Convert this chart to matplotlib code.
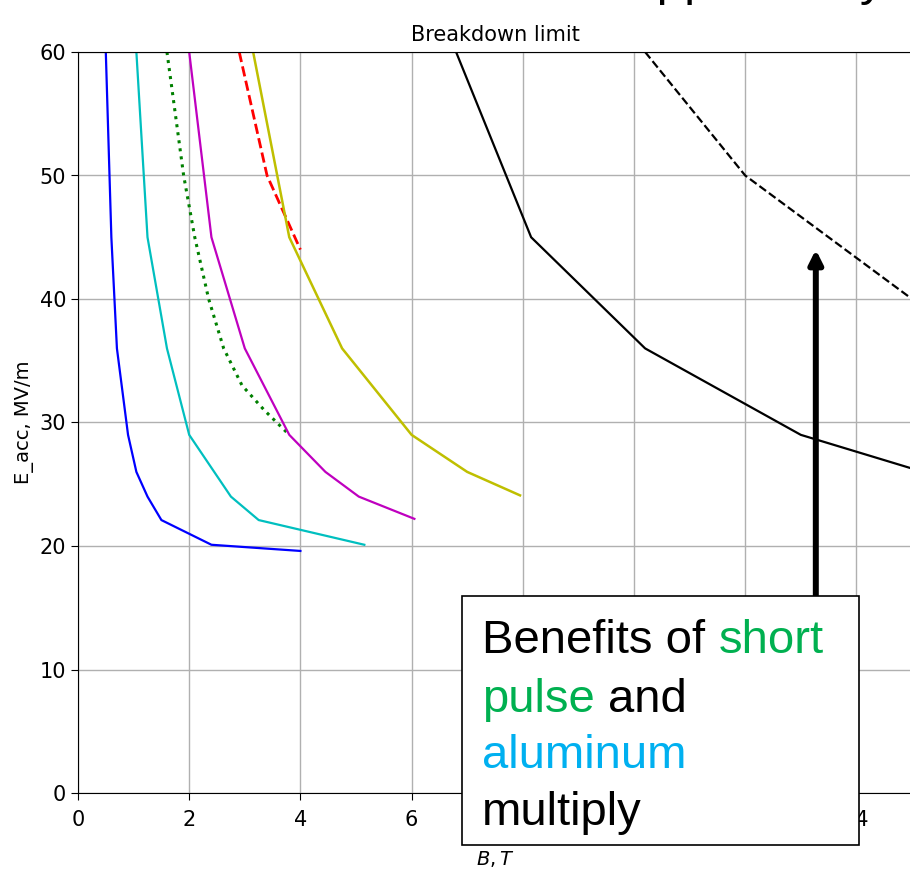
import matplotlib
matplotlib.use("Agg")
import matplotlib.pyplot as plt
from matplotlib.patches import Rectangle

W, H, DPI = 910, 871, 100

# curves (B in T, E_acc in MV/m)
b_blue = [0.5, 0.6, 0.7, 0.9, 1.05, 1.25, 1.5, 2.4, 4.0]
e_blue = [60, 45, 36, 29, 26, 24, 22.1, 20.1, 19.6]
b_cyan = [1.05, 1.25, 1.6, 2.0, 2.45, 2.75, 3.25, 5.15]
e_cyan = [60, 45, 36, 29, 26, 24, 22.1, 20.1]
b_green = [1.6, 1.75, 1.9, 2.1, 2.35, 2.62, 2.95, 3.35, 3.8]
e_green = [60, 55, 50, 45, 40, 36, 33, 31, 29]
b_mag = [2.0, 2.4, 3.0, 3.8, 4.45, 5.05, 6.05]
e_mag = [60, 45, 36, 29, 26, 24, 22.2]
b_red = [2.9, 3.15, 3.4, 4.0]
e_red = [60, 55, 50, 44]
b_yel = [3.15, 3.8, 4.75, 6.0, 7.0, 7.95]
e_yel = [60, 45, 36, 29, 26, 24.1]
b_blk = [6.8, 8.15, 10.2, 13.0, 15.2]
e_blk = [60, 45, 36, 29, 26]
b_blk_dash = [10.2, 12.0, 15.0]
e_blk_dash = [60, 50, 40]

xticks = [0, 2, 4, 6, 8, 10, 12, 14]
yticks = [0, 10, 20, 30, 40, 50, 60]
hidden_xticks = [8, 10, 12]   # fully under the callout box

arrow_b = 13.27
arrow_from, arrow_to = 16.0, 44.0

fig = plt.figure(figsize=(W / DPI, H / DPI), dpi=DPI)
ax = fig.add_axes([78 / W, 1 - 793 / H, 834 / W, (793 - 52) / H])

ax.plot(b_blue, e_blue, color="b", lw=1.6)
ax.plot(b_cyan, e_cyan, color="c", lw=1.6)
ax.plot(b_green, e_green, color="g", ls=":", lw=2.2)
ax.plot(b_mag, e_mag, color="m", lw=1.6)
ax.plot(b_red, e_red, color="r", ls="--", lw=2.0)
ax.plot(b_yel, e_yel, color="y", lw=1.8)
ax.plot(b_blk, e_blk, color="k", lw=1.6)
ax.plot(b_blk_dash, e_blk_dash, color="k", ls="--", lw=1.6)

ax.set_xlim(0, 15)
ax.set_ylim(0, 60)
ax.set_xticks(xticks)
ax.set_yticks(yticks)
ax.tick_params(labelsize=15, length=5)
ax.tick_params(axis="x", pad=7)
for t, v in zip(ax.get_xticklabels(), xticks):
    if v in hidden_xticks:
        t.set_visible(False)
ax.grid(True, color="#b0b0b0", lw=1.0)
ax.spines["right"].set_visible(False)
ax.set_title("Breakdown limit", fontsize=15, pad=8)
ax.set_ylabel("E_acc, MV/m", fontsize=14)
ax.set_xlabel("$B, T$", fontsize=14, labelpad=14)

ax.annotate("", xy=(arrow_b, arrow_to), xytext=(arrow_b, arrow_from),
            arrowprops=dict(arrowstyle="-|>,head_width=0.4,head_length=0.8",
                            lw=4.3, color="k", shrinkA=0, shrinkB=0))

renderer = fig.canvas.get_renderer()


def text_width(s, **kw):
    probe = fig.text(0, 0, s, **kw)
    w = probe.get_window_extent(renderer).width
    probe.remove()
    return w


# slide title, cut off by the top edge (only descenders show)
head_kw = dict(fontsize=35.5, family="Liberation Sans", va="baseline", ha="left")
lead = text_width("Limits of applicability", **head_kw) - text_width("applicability", **head_kw)
fig.text((629 - lead) / W, 1 + 5 / H, "Limits of applicability", **head_kw)

# callout box
x0, x1, y0, y1 = 462, 859, 596, 845
fig.add_artist(Rectangle((x0 / W, 1 - y1 / H), (x1 - x0) / W, (y1 - y0) / H,
                         transform=fig.transFigure, facecolor="white",
                         edgecolor="black", lw=1.2, zorder=5))

green = "#00B050"
blue = "#00B0F0"
box_lines = [
    (653, [("Benefits of ", "black"), ("short", green)]),
    (712, [("pulse", green), (" and", "black")]),
    (768, [("aluminum", blue)]),
    (825, [("multiply", "black")]),
]
box_kw = dict(fontsize=34, family="Liberation Sans", va="baseline", ha="left",
              zorder=6)
for base, parts in box_lines:
    done = ""
    for piece, col in parts:
        word = piece.strip()
        if done:
            xpx = 482 + text_width(done + piece, **box_kw) - text_width(word, **box_kw)
        else:
            xpx = 482
        fig.text(xpx / W, 1 - base / H, word, color=col, **box_kw)
        done += piece

fig.savefig("out.png", dpi=DPI)
